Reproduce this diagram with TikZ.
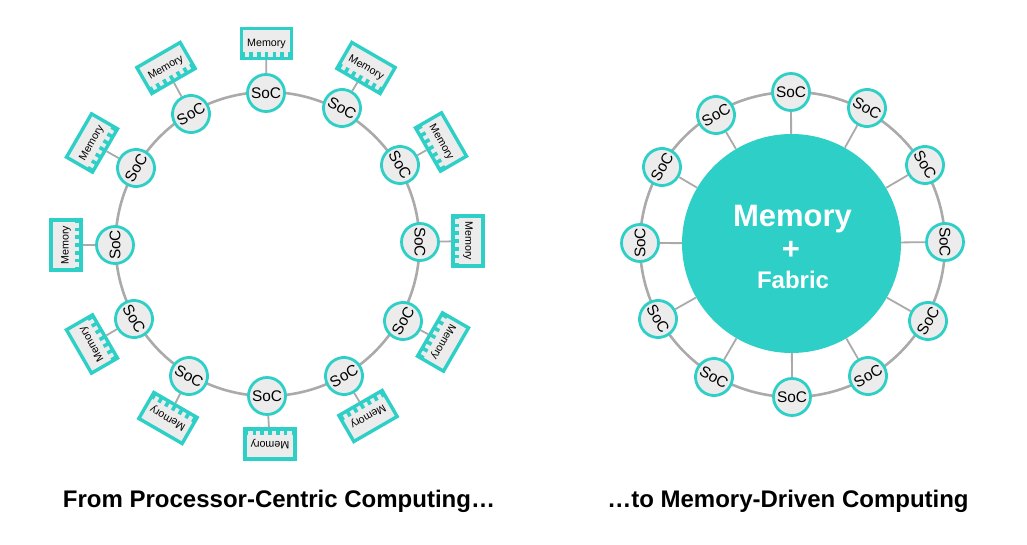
\documentclass[tikz,border=0pt]{standalone}
\usepackage{fontspec}
\setmainfont{Liberation Sans}
\definecolor{teal}{RGB}{45,207,198}
\definecolor{ringgray}{RGB}{170,170,170}
\definecolor{socfill}{RGB}{236,236,236}
\tikzset{
  ringline/.style={draw=ringgray,line width=2.6pt},
  spoke/.style={draw=ringgray,line width=1.8pt},
  socnode/.style={circle,draw=teal,fill=socfill,line width=2.8pt,minimum size=37pt,inner sep=0pt,font=\fontsize{15.4}{16}\selectfont},
  memnode/.style={rectangle,draw=teal,fill=socfill,line width=3.4pt,minimum width=50pt,minimum height=30pt,inner sep=0pt,font=\fontsize{10.7}{11}\selectfont},
  titletext/.style={font=\fontsize{24}{26}\bfseries\selectfont,inner sep=0pt},
}
\begin{document}
\begin{tikzpicture}[x=1pt,y=1pt]
\useasboundingbox (0,0) rectangle (1027,544);
% left ring
\node[circle,ringline,minimum size=304pt,inner sep=0pt] (ringL) at (267.5,{544-244}) {};
\foreach \a/\sx/\sy/\tr/\mx/\my in {
  0/266/93/0/266.5/43.5,
  30/342/108/-30/366/68,
  60/400/165/-60/441/142,
  90/420/242/-90/468/241,
  120/403/321/60/443/342,
  150/344/376/30/368/416,
  180/267/396/0/270/444,
  210/189/376/-30/168/418,
  240/134/319/-60/92/344,
  270/115/245/90/66/245,
  300/136/168/60/92/143,
  330/191/114/30/166/68}{
  \node[socnode,rotate=\tr] (s\a) at (\sx,{544-\sy}) {SoC};
  \node[memnode,rotate=-\a] (m\a) at (\mx,{544-\my}) {Memory};
  \begin{scope}[shift={(m\a.center)},rotate=-\a]
    \foreach \k in {-3,...,3}
      \fill[teal] ({\k*7.8-1.8},-15) rectangle ({\k*7.8+1.8},-8.8);
  \end{scope}
  \draw[spoke] (s\a) -- (m\a);
}
% right ring
\node[circle,ringline,minimum size=305pt,inner sep=0pt] (ringR) at (792.5,{544-244.5}) {};
\node[circle,fill=teal,minimum size=219pt,inner sep=0pt] (big) at (791.5,{544-243.5}) {};
\foreach \a/\sx/\sy/\tr in {
  0/791/92/0,
  30/867/108/-30,
  60/925/165/-60,
  90/945/242/-90,
  120/928/321/60,
  150/868/376/30,
  180/792/397/0,
  210/714/377/-30,
  240/658/319/-60,
  270/640/243/90,
  300/662/167/60,
  330/716/115/30}{
  \node[socnode,rotate=\tr] (r\a) at (\sx,{544-\sy}) {SoC};
  \draw[spoke] (big) -- (r\a);
}
\node[text=white,font=\fontsize{31}{32}\bfseries\selectfont,inner sep=0pt] (tm) at (792.5,{544-219.5}) {Memory};
\node[text=white,font=\fontsize{31}{32}\bfseries\selectfont,inner sep=0pt] (tp) at (791,{544-250}) {+};
\node[text=white,font=\fontsize{24}{26}\bfseries\selectfont,inner sep=0pt] (tf) at (793,{544-279.5}) {Fabric};
\node[titletext] (tl) at (279,{544-501.5}) {From Processor-Centric Computing…};
\node[titletext] (tr) at (788,{544-501.5}) {…to Memory-Driven Computing};
\end{tikzpicture}
\end{document}
